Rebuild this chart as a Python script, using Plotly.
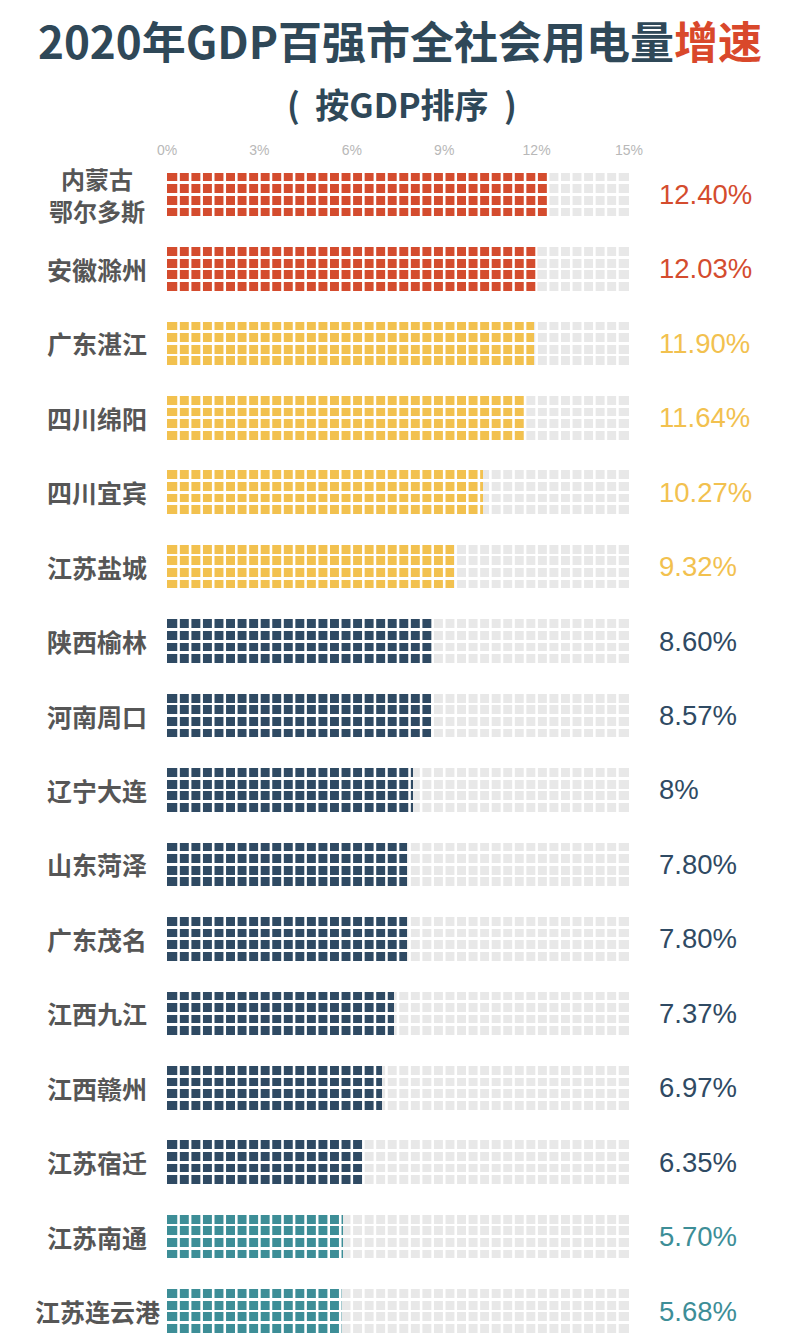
import plotly.graph_objects as go

# ---------------- data ----------------
cities = ["内蒙古<br>鄂尔多斯", "安徽滁州", "广东湛江", "四川绵阳", "四川宜宾", "江苏盐城",
          "陕西榆林", "河南周口", "辽宁大连", "山东菏泽", "广东茂名", "江西九江",
          "江西赣州", "江苏宿迁", "江苏南通", "江苏连云港"]
values = [12.40, 12.03, 11.90, 11.64, 10.27, 9.32, 8.60, 8.57, 8.0, 7.80, 7.80, 7.37,
          6.97, 6.35, 5.70, 5.68]
value_labels = ["12.40%", "12.03%", "11.90%", "11.64%", "10.27%", "9.32%", "8.60%", "8.57%",
                "8%", "7.80%", "7.80%", "7.37%", "6.97%", "6.35%", "5.70%", "5.68%"]
groups = ["top", "top", "high", "high", "high", "high", "mid", "mid", "mid", "mid", "mid",
          "mid", "mid", "mid", "low", "low"]
x_max = 15.0
n_cols = 40
n_sub = 4
tick_vals = [0, 3, 6, 9, 12, 15]
tick_text = ["0%", "3%", "6%", "9%", "12%", "15%"]

# ---------------- style ----------------
group_color = {"top": "#d44c2e", "high": "#f2c14f", "mid": "#2f4a63", "low": "#3d8e97"}
grey = "#e8e8e8"
sub_pitch = 0.1558
sq_h = 0.118
cell = x_max / n_cols
line_off = 0.214

fig = go.Figure()

# background grey cells and coloured fill, 4 sub-rows per city
for s in range(n_sub):
    off = (s - (n_sub - 1) / 2) * sub_pitch
    ys = [i + off for i in range(len(cities))]
    fig.add_trace(go.Bar(
        x=[x_max] * len(cities), y=ys, orientation="h", width=sq_h,
        marker=dict(color=grey, line=dict(width=0)), hoverinfo="skip", showlegend=False))
    fig.add_trace(go.Bar(
        x=values, y=ys, orientation="h", width=sq_h,
        marker=dict(color=[group_color[g] for g in groups], line=dict(width=0)),
        hoverinfo="skip", showlegend=False))

# white separators between the cells
for k in range(1, n_cols):
    fig.add_shape(type="line", xref="x", yref="paper", x0=k * cell, x1=k * cell,
                  y0=0, y1=1, line=dict(color="white", width=2.6), layer="above")

# city labels
lab_font = dict(family="Noto Sans CJK SC", size=25, color="#565656", weight="bold")
for i, c in enumerate(cities):
    parts = c.split("<br>")
    n = len(parts)
    fs = lab_font if n == 1 else dict(lab_font, size=24)
    for j, p in enumerate(parts):
        yy = i + (j - (n - 1) / 2) * 2 * line_off
        fig.add_annotation(x=-0.1515, xref="paper", y=yy, yref="y", text=p, showarrow=False,
                           xanchor="center", yanchor="middle", align="center", font=fs)

# value labels
for i, (v, g) in enumerate(zip(value_labels, groups)):
    fig.add_annotation(x=1.0606, xref="paper", y=i, yref="y", text=v, showarrow=False,
                       xanchor="left", yanchor="middle",
                       font=dict(family="Liberation Sans", size=27.5, color=group_color[g]))

# subtitle
fig.add_annotation(x=0.5087, xref="paper", y=1.0484, yref="paper",
                   text="(\u00a0\u00a0按GDP排序\u00a0\u00a0)", showarrow=False,
                   xanchor="center", yanchor="middle",
                   font=dict(family="Noto Sans CJK SC", size=34, color="#2f4858",
                             weight="bold"))

fig.update_layout(
    width=800, height=1341,
    margin=dict(l=159, r=179, t=152.5, b=0),
    paper_bgcolor="white", plot_bgcolor="white",
    barmode="overlay", bargap=0,
    title=dict(text="2020年GDP百强市全社会用电量<span style='color:#d9482b'>增速</span>",
               x=0.49, xref="container", xanchor="center",
               y=1 - 36 / 1341, yref="container", yanchor="middle",
               font=dict(family="Noto Sans CJK SC", size=44, color="#2f4858",
                         weight="bold")),
    xaxis=dict(range=[0, x_max], side="top", tickvals=tick_vals, ticktext=tick_text,
               showgrid=False, zeroline=False, showline=False, ticks="",
               ticklabelstandoff=2,
               tickfont=dict(family="Liberation Sans", size=14, color="#b8b8b8"),
               fixedrange=True),
    yaxis=dict(range=[15.51, -0.45], showgrid=False, zeroline=False, showline=False,
               showticklabels=False, ticks="", fixedrange=True),
)

fig.write_html("out.html")
